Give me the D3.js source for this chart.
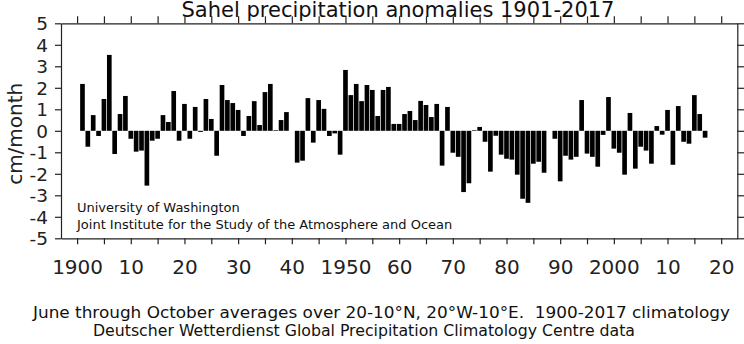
<!DOCTYPE html>
<html>
<head>
<meta charset="utf-8">
<script src="https://cdn.jsdelivr.net/npm/d3@7"></script>
<style>
  html, body { margin: 0; padding: 0; background: #fff; }
  svg { display: block; font-family: "DejaVu Sans", sans-serif; }
  text { white-space: pre; }
</style>
</head>
<body>
<svg id="chart" width="744" height="344"></svg>
<script>
const firstYear = 1901;
const anomalies = [
  2.18, -0.74, 0.73, -0.24, 1.48, 3.53, -1.08, 0.78, 1.62, -0.37,
  -0.97, -0.92, -2.55, -0.46, -0.37, 0.73, 0.41, 1.85, -0.46, 1.25,
  -0.37, 1.11, -0.05, 1.48, 0.55, -1.16, 2.13, 1.43, 1.29, 0.97,
  -0.24, 0.69, 1.38, 0.27, 1.80, 2.18, 0.03, 0.50, 0.87, 0.0,
  -1.48, -1.39, 1.52, -0.55, 1.43, 1.02, -0.24, -0.12, -1.11, 2.83,
  1.66, 2.18, 1.38, 2.13, 1.90, 0.69, 1.90, 2.04, 0.32, 0.32,
  0.78, 0.92, 0.50, 1.39, 1.20, 0.64, 1.25, -1.62, 1.11, -1.02,
  -1.21, -2.85, -2.44, 0.03, 0.18, -0.51, -1.90, -0.23, -1.11, -1.30,
  -1.34, -2.04, -3.16, -3.35, -1.53, -1.44, -1.95, 0.0, -0.37, -2.35,
  -1.16, -1.34, -1.21, 1.43, -1.06, -1.21, -1.67, -0.19, 1.57, -0.83,
  -1.02, -2.04, 0.83, -1.76, -0.74, -0.92, -1.53, 0.22, -0.18, 0.97,
  -1.58, 1.15, -0.51, -0.60, 1.66, 0.78, -0.32
];
const years = anomalies.map((_, i) => firstYear + i);
const xTickYears = [1900, 1905, 1910, 1915, 1920, 1925, 1930, 1935, 1940, 1945, 1950, 1955, 1960, 1965, 1970, 1975, 1980, 1985, 1990, 1995, 2000, 2005, 2010, 2015, 2020];
const xLabelYears = [1900, 1910, 1920, 1930, 1940, 1950, 1960, 1970, 1980, 1990, 2000, 2010, 2020];
const xLabelTexts = ["1900", "10", "20", "30", "40", "1950", "60", "70", "80", "90", "2000", "10", "20"];
const yTicks = [-5, -4, -3, -2, -1, 0, 1, 2, 3, 4, 5];
const titleText = "Sahel precipitation anomalies 1901-2017";
const yLabelText = "cm/month";
const creditLines = ["University of Washington", "Joint Institute for the Study of the Atmosphere and Ocean"];
const footerLines = [
  "June through October averages over 20-10\u00B0N, 20\u00B0W-10\u00B0E.  1900-2017 climatology",
  "Deutscher Wetterdienst Global Precipitation Climatology Centre data"
];

const svg = d3.select("#chart");
const L = 61, R = 737.3, T = 23.3, B = 238.3;
const x = d3.scaleLinear().domain([1897, 2023]).range([L, R]);
const y = d3.scaleLinear().domain([-5, 5]).range([B, T]);
const step = x(1) - x(0);
const bw = step * 0.87;

// bars
svg.append("g").selectAll("rect").data(years).join("rect")
  .attr("x", d => x(d) - bw / 2)
  .attr("width", bw)
  .attr("y", (d, i) => Math.min(y(anomalies[i]), y(0)))
  .attr("height", (d, i) => Math.abs(y(anomalies[i]) - y(0)))
  .attr("fill", "#000");

const labelMap = new Map(xLabelYears.map((yr, i) => [yr, xLabelTexts[i]]));
const axisColor = "#222";

function styleAxis(g) {
  g.selectAll(".domain").attr("stroke", axisColor).attr("stroke-width", 1.2);
  g.selectAll(".tick line").attr("stroke", axisColor).attr("stroke-width", 1.2);
  g.selectAll(".tick text").attr("fill", "#222").attr("font-family", "DejaVu Sans, sans-serif");
}

svg.append("g").attr("transform", `translate(0,${B})`)
  .call(d3.axisBottom(x).tickValues(xTickYears).tickSize(6).tickSizeOuter(0)
    .tickFormat(d => labelMap.get(d) || ""))
  .call(g => g.selectAll(".tick text").attr("font-size", 20).attr("dy", 0).attr("y", 36))
  .call(styleAxis);

svg.append("g").attr("transform", `translate(0,${T})`)
  .call(d3.axisTop(x).tickValues(xTickYears).tickSize(7).tickSizeOuter(0).tickFormat(""))
  .call(styleAxis);

svg.append("g").attr("transform", `translate(${L},0)`)
  .call(d3.axisLeft(y).tickValues(yTicks).tickSize(6).tickSizeOuter(0).tickFormat(d => String(d)))
  .call(g => g.selectAll(".tick text").attr("font-size", 18.5).attr("x", -13).attr("dy", "0.36em"))
  .call(styleAxis);

svg.append("g").attr("transform", `translate(${R},0)`)
  .call(d3.axisRight(y).tickValues(yTicks).tickSize(7).tickSizeOuter(0).tickFormat(""))
  .call(styleAxis);

// title
svg.append("text").attr("x", 398).attr("y", 16.5).attr("text-anchor", "middle")
  .attr("font-size", 21).attr("fill", "#111").text(titleText);

// y label
svg.append("text").attr("transform", `translate(22,${(T + B) / 2 + 3}) rotate(-90)`)
  .attr("text-anchor", "middle").attr("font-size", 20).attr("fill", "#222").text(yLabelText);

// credits
svg.append("g").selectAll("text").data(creditLines).join("text")
  .attr("x", 77).attr("y", (d, i) => 212 + i * 17)
  .attr("font-size", 13).attr("fill", "#111").text(d => d);

// footer
const footerX = [33, 93];
const footerW = [697, 542];
svg.append("g").selectAll("text").data(footerLines).join("text")
  .attr("x", (d, i) => footerX[i]).attr("y", (d, i) => 318 + i * 18)
  .attr("textLength", (d, i) => footerW[i]).attr("lengthAdjust", "spacingAndGlyphs")
  .attr("font-size", 16).attr("fill", "#111").text(d => d);
</script>
</body>
</html>
